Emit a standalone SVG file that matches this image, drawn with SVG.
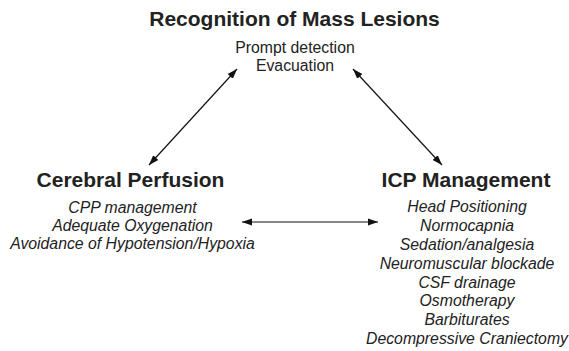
<svg xmlns="http://www.w3.org/2000/svg" width="569" height="351" viewBox="0 0 569 351">
<defs>
<marker id="ah" viewBox="0 0 10 10" refX="10" refY="5" markerWidth="10" markerHeight="10" markerUnits="userSpaceOnUse" orient="auto-start-reverse">
<path d="M0,1.5 L10,5 L0,8.5 Z" fill="#111"/>
</marker>
<style>
.h{font-family:"Liberation Sans",Arial,sans-serif;font-weight:bold;font-size:21px;fill:#222;text-anchor:middle}
.t{font-family:"Liberation Sans",Arial,sans-serif;font-size:15.8px;fill:#222;text-anchor:middle}
.i{font-style:italic}
.c{stroke:#111;stroke-width:1.2;fill:none;marker-start:url(#ah);marker-end:url(#ah)}
</style>
</defs>
<rect width="569" height="351" fill="#fff"/>
<g id="mass">
<text class="h" x="294.5" y="26">Recognition of Mass Lesions</text>
<text class="t" x="295" y="53">Prompt detection</text>
<text class="t" x="295" y="71">Evacuation</text>
</g>
<g id="perfusion">
<text class="h" x="130.5" y="187">Cerebral Perfusion</text>
<text class="t i" x="132.5" y="213">CPP management</text>
<text class="t i" x="132.5" y="231">Adequate Oxygenation</text>
<text class="t i" x="132.5" y="249">Avoidance of Hypotension/Hypoxia</text>
</g>
<g id="icp">
<text class="h" x="466" y="187">ICP Management</text>
<text class="t i" x="467" y="212">Head Positioning</text>
<text class="t i" x="467" y="231">Normocapnia</text>
<text class="t i" x="467" y="250">Sedation/analgesia</text>
<text class="t i" x="467" y="269">Neuromuscular blockade</text>
<text class="t i" x="467" y="288">CSF drainage</text>
<text class="t i" x="467" y="306">Osmotherapy</text>
<text class="t i" x="467" y="325">Barbiturates</text>
<text class="t i" x="467" y="344">Decompressive Craniectomy</text>
</g>
<g id="connectors">
<line class="c" x1="237" y1="69" x2="149" y2="165"/>
<line class="c" x1="353" y1="69" x2="442" y2="165"/>
<line class="c" x1="242" y1="222" x2="378" y2="222"/>
</g>
</svg>
